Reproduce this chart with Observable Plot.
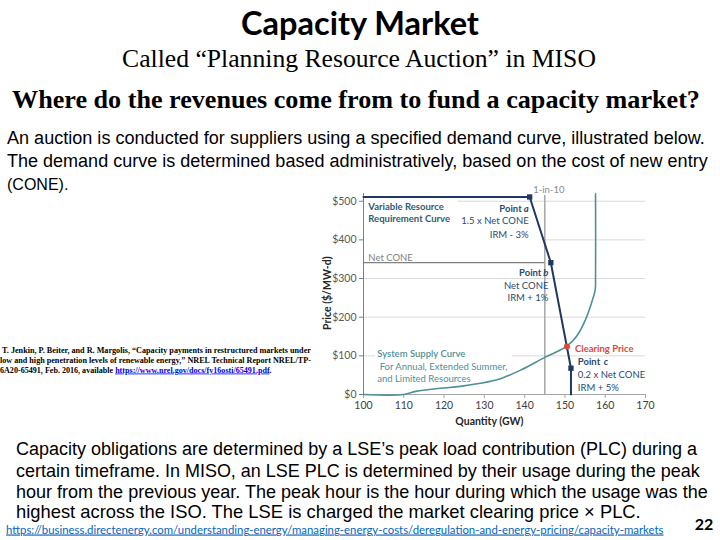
<!DOCTYPE html>
<html><head><meta charset="utf-8">
<script src="https://cdn.jsdelivr.net/npm/d3@7"></script>
<script src="https://cdn.jsdelivr.net/npm/@observablehq/plot@0.6"></script>
<style>
html,body{margin:0;padding:0;background:#fff;}
body{width:720px;height:540px;position:relative;overflow:hidden;}
#slide{position:absolute;left:0;top:0;}
#chart{position:absolute;left:320px;top:180px;}
</style></head><body>
<svg id="slide" width="720" height="540"></svg>
<div id="chart"></div>
<script>
// ---- chart data ----
const yTicks = [0, 100, 200, 300, 400, 500];
const xTicks = [100, 110, 120, 130, 140, 150, 160, 170];
const gridPrices = [100, 200, 300, 400, 500];
const supplyQuantity = [100, 110, 113, 119, 124, 129, 134, 139, 145, 150.5, 153, 155, 156.7, 157.5, 157.6, 157.6];
const supplyPrice    = [0,   0,   8,   16,  21,  29,  41,  63,  96,  125,   152, 191, 240,   270,   300,   519];
const demandQuantity = [100, 141.25, 146.5, 151.5, 151.5];
const demandPrice    = [511, 511,    341,   68,    0];
const pointNames     = ["a", "b", "c"];
const pointQuantity  = [141.25, 146.5, 151.5];
const pointPrice     = [511, 341, 68];
const netCone = 341;
const oneInTen = 145;
const clearingQuantity = 150.5;
const clearingPrice = 124;

// ---- slide texts ----
const slideSvg = d3.select("#slide");
function line(t, x, y, o = {}) {
  const size = o.size || 16;
  const el = slideSvg.append("text").attr("x", x).attr("y", y)
    .attr("text-anchor", o.anchor || "start")
    .attr("font-family", o.font || "Liberation Sans")
    .attr("font-size", size)
    .attr("font-weight", o.weight || 400)
    .attr("fill", o.fill || "#000");
  if (Array.isArray(t)) {
    t.forEach(p => {
      const ts = el.append("tspan").text(p.t);
      if (p.fill) ts.attr("fill", p.fill);
      if (p.underline) ts.attr("text-decoration", "underline");
    });
  } else el.text(t);
  if (o.underline) el.attr("text-decoration", "underline");
  if (o.len) {
    const natural = el.node().getComputedTextLength();
    if (natural > 0) el.attr("font-size", (size * o.len / natural).toFixed(2));
  }
  return el;
}
line("Capacity Market", 360, 35, {anchor: "middle", font: "Lato", size: 29, weight: 700, len: 238});
line("Called “Planning Resource Auction” in MISO", 359, 67, {anchor: "middle", font: "Liberation Serif", size: 21, len: 474});
line("Where do the revenues come from to fund a capacity market?", 356, 108, {anchor: "middle", font: "Liberation Serif", size: 23, weight: 700, len: 688});
line("An auction is conducted for suppliers using a specified demand curve, illustrated below.", 7, 144, {size: 16, len: 698});
line("The demand curve is determined based administratively, based on the cost of new entry", 7, 167, {size: 16, len: 701});
line("(CONE).", 7, 190, {size: 16});
line("Capacity obligations are determined by a LSE’s peak load contribution (PLC) during a", 16, 455, {size: 17, len: 681});
line("certain timeframe. In MISO, an LSE PLC is determined by their usage during the peak", 16, 476.5, {size: 17, len: 684});
line("hour from the previous year. The peak hour is the hour during which the usage was the", 16, 498, {size: 17, len: 692});
line("highest across the ISO. The LSE is charged the market clearing price × PLC.", 16, 517.5, {size: 17, len: 625});
const cite = {font: "Liberation Serif", size: 8.5, weight: 700};
line("T. Jenkin, P. Beiter, and R. Margolis, “Capacity payments in restructured markets under", 2, 352.5, {...cite, len: 309});
line("low and high penetration levels of renewable energy,” NREL Technical Report NREL/TP-", 0, 362.5, {...cite, len: 312});
line([{t: "6A20-65491, Feb. 2016, available "}, {t: "https://www.nrel.gov/docs/fy16osti/65491.pdf", fill: "#0000ee", underline: true}, {t: "."}], 0, 372.5, {...cite, len: 272});
line("https://business.directenergy.com/understanding-energy/managing-energy-costs/deregulation-and-energy-pricing/capacity-markets", 6, 533.5, {font: "Lato", size: 12, fill: "#0563c1", underline: true, len: 658});
line("22", 704, 530, {anchor: "middle", font: "Lato", size: 16, weight: 700});

// ---- chart ----
const supply = supplyQuantity.map((q, i) => ({q, p: supplyPrice[i]}));
const demand = demandQuantity.map((q, i) => ({q, p: demandPrice[i]}));
const points = pointNames.map((n, i) => ({n, q: pointQuantity[i], p: pointPrice[i]}));
const navy = "#1f3864", teal = "#4f8f98", labelBlue = "#2b4a6f", red = "#e0463a";
const note = (text, q, p, o = {}) => Plot.text([text], {x: () => q, y: () => p, text: d => d, fontSize: 9.5, ...o});
const mask = (x1, x2, y1, y2) => Plot.rect([0], {x1: () => x1, x2: () => x2, y1: () => y1, y2: () => y2, fill: "white"});

const chart = Plot.plot({
  width: 345, height: 245,
  marginLeft: 43, marginRight: 20, marginTop: 13, marginBottom: 31,
  x: {domain: [100, 170]},
  y: {domain: [0, 520]},
  style: {fontFamily: "Lato", fontSize: "10.5px", background: "transparent", overflow: "visible"},
  marks: [
    Plot.ruleY(gridPrices, {x1: 100, x2: 170, stroke: "#d9d9d9"}),
    mask(100, 123.5, 480, 509),
    mask(100, 144.7, 350, 470),
    mask(103, 137, 88, 112),
    Plot.ruleX([oneInTen], {y1: 0, y2: 515, stroke: "#a6a6a6", strokeWidth: 1.5}),
    Plot.ruleY([netCone], {x1: 100, x2: oneInTen, stroke: "#7f7f7f", strokeWidth: 1.2}),
    Plot.axisY({ticks: yTicks, tickFormat: d => "$" + d, tickSize: 4, tickPadding: 3, label: null, stroke: "#7f7f7f", fill: "#595959"}),
    Plot.axisX({ticks: xTicks, tickSize: 4, tickPadding: 3, label: null, stroke: "#a6a6a6", fill: "#404040"}),
    Plot.ruleX([100], {y1: 0, y2: 520, stroke: "#7f7f7f"}),
    Plot.ruleY([0], {x1: 100, x2: 170, stroke: "#a6a6a6"}),
    Plot.line(supply, {x: "q", y: "p", stroke: teal, strokeWidth: 1.6, curve: "catmull-rom"}),
    Plot.line(demand, {x: "q", y: "p", stroke: navy, strokeWidth: 2}),
    Plot.dot(points, {x: "q", y: "p", symbol: "square", r: 3, fill: navy}),
    Plot.dot([0], {x: () => clearingQuantity, y: () => clearingPrice, r: 3, fill: red}),
    // axis titles
    Plot.text(["Price ($/MW-d)"], {x: () => 100, y: () => 262, dx: -36, rotate: -90, fontWeight: "bold", fill: "#262626", fontSize: 10.5}),
    Plot.text(["Quantity (GW)"], {x: () => 131.25, y: () => 0, dy: 27, fontWeight: "bold", fill: "#262626", fontSize: 10.5}),
    // annotations
    note("1-in-10", oneInTen + 1, 528, {fill: "#8c8c8c"}),
    note("Variable Resource", 101.2, 486, {textAnchor: "start", fontWeight: "bold", fill: "#2e5b75"}),
    note("Requirement Curve", 101.2, 453, {textAnchor: "start", fontWeight: "bold", fill: "#2e5b75"}),
    note("Point", 141, 481, {textAnchor: "end", dx: -7, fontWeight: "bold", fill: labelBlue}),
    note(pointNames[0], 141, 481, {textAnchor: "end", fontWeight: "bold", fontStyle: "italic", fill: labelBlue}),
    note("1.5 x Net CONE", 141, 448, {textAnchor: "end", fill: labelBlue}),
    note("IRM - 3%", 141, 414, {textAnchor: "end", fill: labelBlue}),
    note("Net CONE", 101.2, 354, {textAnchor: "start", fill: "#7f7f7f"}),
    note("Point", 145.9, 314, {textAnchor: "end", dx: -7, fontWeight: "bold", fill: labelBlue}),
    note(pointNames[1], 145.9, 314, {textAnchor: "end", fontWeight: "bold", fontStyle: "italic", fill: labelBlue}),
    note("Net CONE", 145.9, 281, {textAnchor: "end", fill: labelBlue}),
    note("IRM + 1%", 145.9, 249, {textAnchor: "end", fill: labelBlue}),
    note("System Supply Curve", 103.4, 106, {textAnchor: "start", fontWeight: 600, fill: teal}),
    note(" For Annual, Extended Summer,", 103.4, 72, {textAnchor: "start", fill: teal}),
    note("and Limited Resources", 103.4, 39, {textAnchor: "start", fill: teal}),
    note("Clearing Price", 152.5, 119, {textAnchor: "start", fontWeight: "bold", fill: red}),
    note("Point", 153.2, 83, {textAnchor: "start", fontWeight: "bold", fill: labelBlue}),
    note(pointNames[2], 153.2, 83, {textAnchor: "start", dx: 26, fontWeight: "bold", fontStyle: "italic", fill: labelBlue}),
    note("0.2 x Net CONE", 153.2, 50, {textAnchor: "start", fill: labelBlue}),
    note("IRM + 5%", 153.2, 17, {textAnchor: "start", fill: labelBlue})
  ]
});
document.getElementById("chart").appendChild(chart);
</script>
</body></html>
